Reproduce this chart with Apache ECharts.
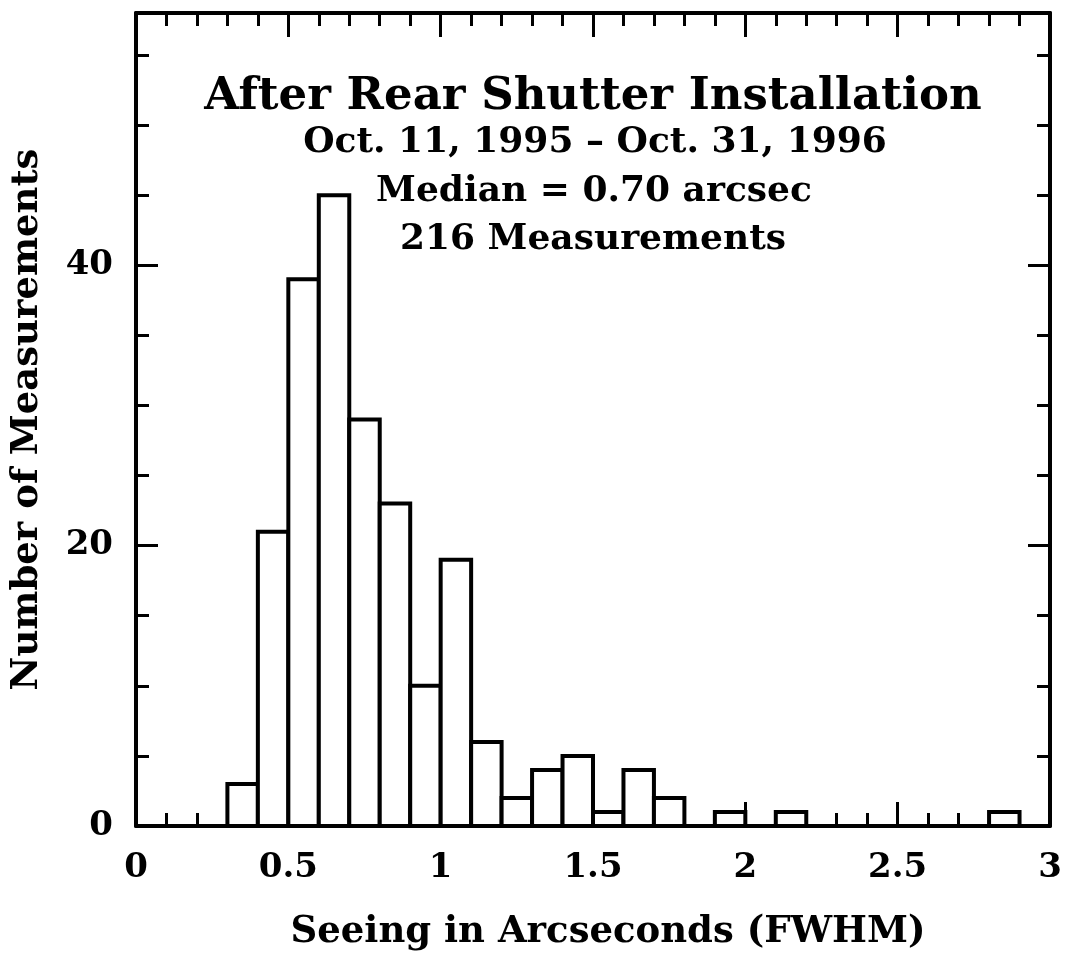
<!DOCTYPE html>
<html>
<head>
<meta charset="utf-8">
<script src="https://cdn.jsdelivr.net/npm/echarts@6/dist/echarts.min.js"></script>
<style>html,body{margin:0;padding:0;background:#fff}#c{width:1067px;height:962px}</style>
</head>
<body>
<div id="c"></div>
<script>
// Histogram bins (arcsec) and counts
const binLeft  = [0.3, 0.4, 0.5, 0.6, 0.7, 0.8, 0.9, 1.0, 1.1, 1.2, 1.3, 1.4, 1.5, 1.6, 1.7, 1.9, 2.1, 2.8];
const binRight = [0.4, 0.5, 0.6, 0.7, 0.8, 0.9, 1.0, 1.1, 1.2, 1.3, 1.4, 1.5, 1.6, 1.7, 1.8, 2.0, 2.2, 2.9];
const counts   = [3, 21, 39, 45, 29, 23, 10, 19, 6, 2, 4, 5, 1, 4, 2, 1, 1, 1];
const xTickLabels = [0, 0.5, 1, 1.5, 2, 2.5, 3];
const yTickLabels = [0, 20, 40];
const titleLines = ['After Rear Shutter Installation', 'Oct. 11, 1995 \u2013 Oct. 31, 1996', 'Median = 0.70 arcsec', '216 Measurements'];

const FONT = 'DejaVu Serif';
const INK = '#000';
const data = binLeft.map((l, i) => [l, binRight[i], counts[i]]);

function xAx(pos, interval, len, withLabels, line) {
  return {
    type: 'value', position: pos, min: 0, max: 3, interval: interval,
    axisLine: { show: line, onZero: false, lineStyle: { color: INK, width: 4 } },
    axisTick: { show: true, inside: true, length: len, lineStyle: { color: INK, width: 3 } },
    axisLabel: withLabels ? {
      show: true, margin: 25, fontFamily: FONT, fontWeight: 'bold', fontSize: 34, color: INK,
      formatter: v => (xTickLabels.some(t => Math.abs(t - v) < 1e-6) ? String(+v.toFixed(1)) : '')
    } : { show: false },
    splitLine: { show: false }
  };
}
function yAx(pos, interval, len, withLabels, line) {
  return {
    type: 'value', position: pos, min: 0, max: 58, interval: interval,
    axisLine: { show: line, onZero: false, lineStyle: { color: INK, width: 4 } },
    axisTick: { show: true, inside: true, length: len, lineStyle: { color: INK, width: 3 } },
    axisLabel: withLabels ? {
      show: true, margin: 23, fontFamily: FONT, fontWeight: 'bold', fontSize: 34, color: INK,
      formatter: v => (yTickLabels.indexOf(v) >= 0 ? String(v) : '')
    } : { show: false },
    splitLine: { show: false }
  };
}

const xMain = xAx('bottom', 0.5, 24, true, true);
xMain.name = 'Seeing in Arcseconds (FWHM)';
xMain.nameLocation = 'middle';
xMain.nameGap = 88;
xMain.nameTextStyle = { fontFamily: FONT, fontWeight: 'bold', fontSize: 37, color: INK, padding: [0, 0, 0, 30] };
const yMain = yAx('left', 20, 22, true, true);
yMain.name = 'Number of Measurements';
yMain.nameLocation = 'middle';
yMain.nameGap = 90;
yMain.nameTextStyle = { fontFamily: FONT, fontWeight: 'bold', fontSize: 37, color: INK };

const chart = echarts.init(document.getElementById('c'), null, { renderer: 'canvas' });
chart.setOption({
  backgroundColor: '#fff',
  animation: false,
  grid: { left: 136, top: 13, right: 17, bottom: 136, containLabel: false },
  xAxis: [xMain, xAx('bottom', 0.1, 13, false, false), xAx('top', 0.5, 24, false, true), xAx('top', 0.1, 13, false, false)],
  yAxis: [yMain, yAx('left', 5, 13, false, false), yAx('right', 20, 22, false, true), yAx('right', 5, 13, false, false)],
  series: [{
    type: 'custom',
    xAxisIndex: 0, yAxisIndex: 0,
    encode: { x: [0, 1], y: 2 },
    data: data,
    renderItem: function (params, api) {
      const p0 = api.coord([api.value(0), api.value(2)]);
      const p1 = api.coord([api.value(1), 0]);
      return {
        type: 'rect',
        shape: { x: p0[0], y: p0[1], width: p1[0] - p0[0], height: p1[1] - p0[1] },
        style: { fill: '#fff', stroke: INK, lineWidth: 4 }
      };
    }
  }],
  graphic: [
    { type: 'text', x: 593, y: 97, style: { text: titleLines[0], font: 'bold 45px "' + FONT + '"', fill: INK, align: 'center', verticalAlign: 'middle' } },
    { type: 'text', x: 595, y: 143, style: { text: titleLines[1], font: 'bold 36px "' + FONT + '"', fill: INK, align: 'center', verticalAlign: 'middle' } },
    { type: 'text', x: 594, y: 192, style: { text: titleLines[2], font: 'bold 36px "' + FONT + '"', fill: INK, align: 'center', verticalAlign: 'middle' } },
    { type: 'text', x: 593, y: 240, style: { text: titleLines[3], font: 'bold 36px "' + FONT + '"', fill: INK, align: 'center', verticalAlign: 'middle' } }
  ]
});
</script>
</body>
</html>
